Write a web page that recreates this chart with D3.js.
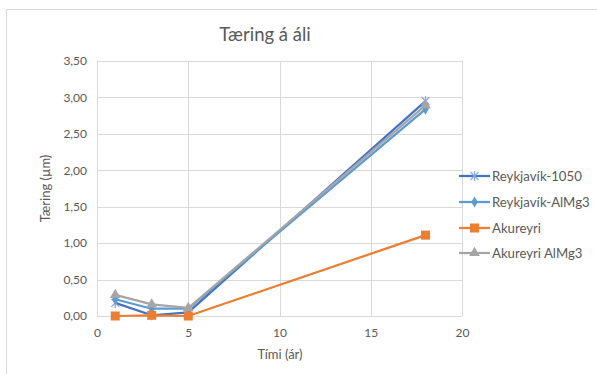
<!DOCTYPE html>
<html>
<head>
<meta charset="utf-8">
<script src="https://cdn.jsdelivr.net/npm/d3@7/dist/d3.min.js"></script>
<style>
  html, body { margin: 0; padding: 0; background: #fff; }
  svg { display: block; font-family: Lato, "Open Sans", sans-serif; }
</style>
</head>
<body>
<svg id="chart" width="597" height="374"></svg>
<script>
// Time in years for each measurement
const years = [1, 3, 5, 18];

// Corrosion (µm) per site / alloy
const reykjavik1050 = [0.18, 0.01, 0.05, 2.95];
const reykjavikAlMg3 = [0.23, 0.10, 0.10, 2.84];
const akureyri = [0.00, 0.01, 0.00, 1.11];
const akureyriAlMg3 = [0.29, 0.16, 0.11, 2.89];

const seriesNames = ["Reykjavík-1050", "Reykjavík-AlMg3", "Akureyri", "Akureyri AlMg3"];
const seriesValues = [reykjavik1050, reykjavikAlMg3, akureyri, akureyriAlMg3];

const xTicks = [0, 5, 10, 15, 20];
const yTicks = [0, 0.5, 1, 1.5, 2, 2.5, 3, 3.5];

const colors = ["#4472C4", "#5B9BD5", "#ED7D31", "#A5A5A5"];
const markerKinds = ["star", "diamond", "square", "triangle"];

const svg = d3.select("#chart");
const plot = { left: 97, right: 462, top: 61, bottom: 316 };

const x = d3.scaleLinear().domain([0, 20]).range([plot.left, plot.right]);
const y = d3.scaleLinear().domain([0, 3.5]).range([plot.bottom, plot.top]);

const fmt = v => d3.format(".2f")(v).replace(".", ",");

// Chart frame
svg.append("rect")
  .attr("x", 6.5).attr("y", 9.5)
  .attr("width", 700).attr("height", 500)
  .attr("fill", "#fff").attr("stroke", "#d9d9d9");

// Gridlines
svg.append("g")
  .selectAll("line.h")
  .data(yTicks)
  .join("line")
  .attr("x1", plot.left).attr("x2", plot.right)
  .attr("y1", d => Math.round(y(d)) + 0.5).attr("y2", d => Math.round(y(d)) + 0.5)
  .attr("stroke", "#d9d9d9").attr("stroke-width", 1);

svg.append("g")
  .selectAll("line.v")
  .data(xTicks)
  .join("line")
  .attr("y1", plot.top).attr("y2", plot.bottom)
  .attr("x1", d => Math.round(x(d)) + 0.5).attr("x2", d => Math.round(x(d)) + 0.5)
  .attr("stroke", "#d9d9d9").attr("stroke-width", 1);

// Axes (labels only; lines come from the grid)
const yAxis = svg.append("g")
  .attr("transform", `translate(${plot.left - 10},0)`)
  .call(d3.axisLeft(y).tickValues(yTicks).tickFormat(fmt).tickSize(0).tickPadding(0));
yAxis.select(".domain").remove();
yAxis.selectAll("text").attr("fill", "#595959").attr("font-size", 12).attr("font-family", "Lato, 'Open Sans', sans-serif");

const xAxis = svg.append("g")
  .attr("transform", `translate(0,${plot.bottom + 8})`)
  .call(d3.axisBottom(x).tickValues(xTicks).tickFormat(d3.format("d")).tickSize(0).tickPadding(4));
xAxis.select(".domain").remove();
xAxis.selectAll("text").attr("fill", "#595959").attr("font-size", 12).attr("font-family", "Lato, 'Open Sans', sans-serif");

// Titles
svg.append("text")
  .attr("x", 265).attr("y", 41)
  .attr("text-anchor", "middle")
  .attr("fill", "#595959").attr("font-size", 18.5)
  .text("Tæring á áli");

svg.append("text")
  .attr("x", 280).attr("y", 359)
  .attr("text-anchor", "middle")
  .attr("fill", "#595959").attr("font-size", 13)
  .text("Tími (ár)");

svg.append("text")
  .attr("transform", `translate(50,${(plot.top + plot.bottom) / 2}) rotate(-90)`)
  .attr("text-anchor", "middle")
  .attr("fill", "#595959").attr("font-size", 13)
  .text("Tæring (µm)");

// Marker drawing
function drawMarker(g, kind, color, cx, cy) {
  if (kind === "star") {
    const r = 4;
    const c = "#8FAADC";
    g.append("path")
      .attr("d", `M${cx - r},${cy - r}L${cx + r},${cy + r}M${cx - r},${cy + r}L${cx + r},${cy - r}M${cx},${cy - r - 1}L${cx},${cy + r + 1}`)
      .attr("stroke", c).attr("stroke-width", 1.3).attr("fill", "none");
  } else if (kind === "diamond") {
    g.append("path")
      .attr("d", d3.symbol(d3.symbolDiamond, 36)())
      .attr("transform", `translate(${cx},${cy})`)
      .attr("fill", color);
  } else if (kind === "square") {
    g.append("rect")
      .attr("x", cx - 4.5).attr("y", cy - 4.5)
      .attr("width", 9).attr("height", 9)
      .attr("fill", color);
  } else if (kind === "triangle") {
    g.append("path")
      .attr("d", d3.symbol(d3.symbolTriangle, 50)())
      .attr("transform", `translate(${cx},${cy})`)
      .attr("fill", color);
  }
}

const line = d3.line().x(d => x(d[0])).y(d => y(d[1]));

seriesValues.forEach((vals, i) => {
  const pts = years.map((yr, j) => [yr, vals[j]]);
  const g = svg.append("g");
  g.append("path")
    .attr("d", line(pts))
    .attr("fill", "none")
    .attr("stroke", colors[i])
    .attr("stroke-width", 2.25)
    .attr("stroke-linejoin", "round");
  pts.forEach(p => drawMarker(g, markerKinds[i], colors[i], x(p[0]), y(p[1])));
});

// Legend
const legendY = [176, 202, 228, 253];
seriesNames.forEach((name, i) => {
  const g = svg.append("g");
  const ly = legendY[i];
  g.append("line")
    .attr("x1", 459).attr("x2", 490)
    .attr("y1", ly).attr("y2", ly)
    .attr("stroke", colors[i]).attr("stroke-width", 2.25);
  drawMarker(g, markerKinds[i], colors[i], 474.5, ly);
  g.append("text")
    .attr("x", 492).attr("y", ly + 4.5)
    .attr("fill", "#595959").attr("font-size", 13.2)
    .text(name);
});
</script>
</body>
</html>
